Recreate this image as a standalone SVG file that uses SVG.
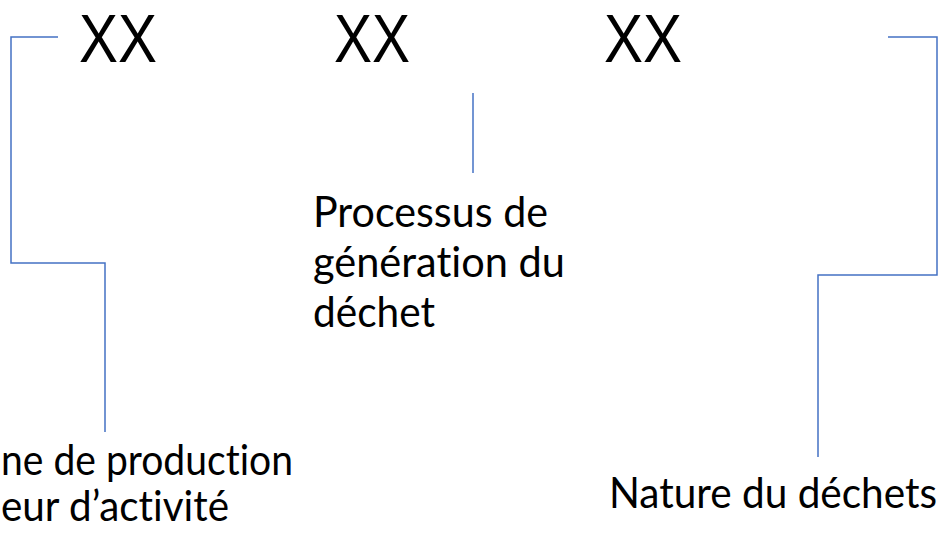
<svg xmlns="http://www.w3.org/2000/svg" width="948" height="544" viewBox="0 0 948 544">
<style>
.code{font-family:"Liberation Sans",Arial,sans-serif;font-size:68px;fill:#000}
.lbl{font-family:Lato,"Open Sans",sans-serif;font-size:42px;fill:#000;font-variant-ligatures:none;font-feature-settings:"liga" 0,"clig" 0}
.conn{fill:none;stroke:#4472C4;stroke-width:1.5}
</style>
<rect width="948" height="544" fill="#fff"/>
<g id="code1"><text class="code" x="79" y="62" textLength="78" lengthAdjust="spacingAndGlyphs">XX</text></g>
<g id="code2"><text class="code" x="334" y="62" textLength="76" lengthAdjust="spacingAndGlyphs">XX</text></g>
<g id="code3"><text class="code" x="604" y="62" textLength="78" lengthAdjust="spacingAndGlyphs">XX</text></g>
<g id="label-production">
<text class="lbl" x="1" y="475" textLength="292" lengthAdjust="spacingAndGlyphs">ne de production</text>
<text class="lbl" x="1" y="521" textLength="228" lengthAdjust="spacingAndGlyphs">eur d’activité</text>
</g>
<g id="label-processus">
<text class="lbl" x="313" y="227" textLength="235" lengthAdjust="spacingAndGlyphs">Processus de</text>
<text class="lbl" x="313" y="277" textLength="252" lengthAdjust="spacingAndGlyphs">génération du</text>
<text class="lbl" x="313" y="327" textLength="122" lengthAdjust="spacingAndGlyphs">déchet</text>
</g>
<g id="label-nature">
<text class="lbl" x="609" y="508" textLength="328" lengthAdjust="spacingAndGlyphs">Nature du déchets</text>
</g>
<g id="connectors">
<polyline class="conn" points="58,37 11,37 11,263 105,263 105,432"/>
<line class="conn" x1="473" y1="93" x2="473" y2="173"/>
<polyline class="conn" points="888,37 937,37 937,275 818,275 818,457"/>
</g>
</svg>
